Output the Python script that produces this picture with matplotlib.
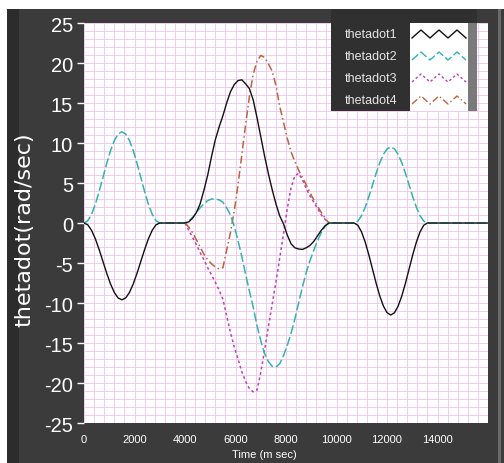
import numpy as np
import matplotlib.pyplot as plt
from matplotlib.patches import Rectangle
from matplotlib.lines import Line2D

plt.rcParams['axes.unicode_minus'] = False

# time samples (ms): three moves separated by holds
seg1_t = [0, 150, 300, 450, 600, 750, 900, 1050, 1200, 1350, 1500,
          1650, 1800, 1950, 2100, 2250, 2400, 2550, 2700, 2850, 3000]
seg2_t = [4000, 4150, 4300, 4450, 4600, 4750, 4900, 5050, 5200, 5350,
          5500, 5650, 5800, 5950, 6100, 6250, 6400, 6550, 6700, 6850,
          7000, 7150, 7300, 7450, 7600, 7750, 7900, 8050, 8200, 8350,
          8500, 8650, 8800, 8950, 9100, 9250, 9400, 9550, 9700]
seg3_t = [10700, 10845, 10990, 11135, 11280, 11425, 11570, 11715, 11860,
          12005, 12150, 12295, 12440, 12585, 12730, 12875, 13020, 13165,
          13310, 13455, 13600]
time_ms = seg1_t + seg2_t + seg3_t + [16000]

# joint velocities (rad/sec)
thetadot1 = ([0, -0.23, -0.92, -1.98, -3.32, -4.8, -6.28, -7.62, -8.68, -9.37, -9.6,
              -9.37, -8.68, -7.62, -6.28, -4.8, -3.32, -1.98, -0.92, -0.23, 0]
             + [0, 0.15, 0.6, 1.3, 2.4, 4.1, 6.0, 8.3, 10.4, 12.0,
                13.4, 15.0, 16.4, 17.3, 17.8, 17.9, 17.4, 16.8, 15.4, 13.2,
                10.8, 8.4, 6.2, 4.2, 2.4, 0.9, -0.1, -1.5, -2.6, -3.1,
                -3.25, -3.3, -3.1, -2.8, -2.3, -1.6, -0.9, -0.35, 0]
             + [0, -0.28, -1.1, -2.37, -3.97, -5.75, -7.53, -9.13, -10.4, -11.22, -11.5,
                -11.22, -10.4, -9.13, -7.53, -5.75, -3.97, -2.37, -1.1, -0.28, 0]
             + [0])
thetadot2 = ([0, 0.28, 1.09, 2.35, 3.94, 5.7, 7.46, 9.05, 10.31, 11.12, 11.4,
              11.12, 10.31, 9.05, 7.46, 5.7, 3.94, 2.35, 1.09, 0.28, 0]
             + [0, 0.25, 0.7, 1.3, 1.9, 2.4, 2.8, 3.0, 3.0, 2.9,
                2.6, 1.9, 1.0, -0.4, -2.2, -4.2, -6.4, -8.5, -10.5, -12.8,
                -14.7, -16.3, -17.3, -17.9, -18.0, -17.6, -16.6, -15.3, -13.8, -12.0,
                -10.0, -8.0, -6.2, -4.7, -3.4, -2.2, -1.2, -0.4, 0]
             + [0, 0.23, 0.91, 1.96, 3.28, 4.75, 6.22, 7.54, 8.59, 9.27, 9.5,
                9.27, 8.59, 7.54, 6.22, 4.75, 3.28, 1.96, 0.91, 0.23, 0]
             + [0])
thetadot3 = [0, -0.9, -1.8, -2.7, -3.7, -4.6, -5.6, -6.5, -7.4, -8.4,
             -9.5, -11.6, -13.7, -15.5, -17.0, -18.6, -19.8, -20.7, -21.1, -20.9,
             -18.7, -15.9, -13.0, -10.2, -7.4, -4.4, -1.4, 1.8, 4.4, 5.9,
             6.2, 5.4, 4.3, 3.4, 2.6, 1.8, 1.0, 0.45, 0]
thetadot4 = [0, -0.5, -1.2, -2.1, -3.0, -3.9, -4.6, -5.1, -5.5, -5.75,
             -5.6, -3.4, -1.2, 1.5, 4.8, 8.5, 12.3, 15.8, 18.6, 20.2,
             20.95, 20.7, 19.9, 19.0, 17.2, 14.6, 12.6, 10.6, 8.9, 7.7,
             6.6, 5.7, 4.8, 3.8, 2.9, 2.1, 1.3, 0.6, 0]

names = ['thetadot1', 'thetadot2', 'thetadot3', 'thetadot4']
colors = ['#111111', '#2fb3b3', '#c23cb8', '#b8643c']
dashes = [None, (6, 2), (1.8, 1.8), (5, 2, 1, 2)]

W, H = 504, 464
fig = plt.figure(figsize=(W / 100, H / 100), dpi=100, facecolor='white')

def px(x0, y0, w, h):
    # pixel box (top-left origin) -> figure fraction rect
    return (x0 / W, 1 - (y0 + h) / H), w / W, h / H

# dark panel behind everything
for (x0, y0, w, h), c in [((7, 10, 497, 454), '#3b3b3b'),
                          ((7, 10, 12, 454), '#2c2c2c'),
                          ((498, 10, 3, 454), '#6a6a6a')]:
    xy, ww, hh = px(x0, y0, w, h)
    fig.patches.append(Rectangle(xy, ww, hh, transform=fig.transFigure,
                                 facecolor=c, edgecolor='none', zorder=-5))

ax = fig.add_axes([84 / W, 1 - 424 / H, 404 / W, 400 / H])
ax.set_facecolor('white')

ax.plot(time_ms, thetadot1, color=colors[0], lw=1.0, zorder=5)
ax.plot(time_ms, thetadot2, color=colors[1], lw=1.1, dashes=dashes[1], zorder=4)
ax.plot(seg2_t, thetadot3, color=colors[2], lw=1.1, dashes=dashes[2], zorder=3)
ax.plot(seg2_t, thetadot4, color=colors[3], lw=1.1, dashes=dashes[3], zorder=3)

ax.set_xlim(0, 16000)
ax.set_ylim(-25, 25)
ax.set_xticks(np.arange(0, 14001, 2000))
ax.set_xticks(np.arange(0, 16001, 400), minor=True)
ax.set_yticks(np.arange(-25, 26, 5))
ax.set_yticks(np.arange(-25, 26, 1), minor=True)
ax.grid(which='both', color='#f1caf0', lw=0.7, zorder=0)
ax.set_axisbelow(True)
for s in ax.spines.values():
    s.set_visible(False)

ax.tick_params(axis='x', which='both', length=0, pad=8, colors='white',
               labelsize=8)
ax.tick_params(axis='y', which='major', length=5, width=1, pad=3,
               colors='white', labelsize=14.5)
ax.tick_params(axis='y', which='minor', length=0)
for lab in ax.get_xticklabels():
    lab.set_fontfamily('Liberation Sans')
for lab in ax.get_yticklabels():
    lab.set_fontfamily('Liberation Sans')

fig.text(264 / W, 1 - 455 / H, 'Time (m sec)', color='white', fontsize=8,
         family='Liberation Sans', ha='center', va='center')
fig.text(24 / W, 1 - 230 / H, 'thetadot(rad/sec)', color='white', fontsize=16,
         rotation=90, ha='center', va='center')

# LabVIEW-style legend box in the top right
for (x0, y0, w, h), c in [((331, 10, 146, 102), '#303030'),
                          ((410, 24, 58, 88), 'white'),
                          ((468, 24, 9, 88), '#7a7a7a')]:
    xy, ww, hh = px(x0, y0, w, h)
    fig.patches.append(Rectangle(xy, ww, hh, transform=fig.transFigure,
                                 facecolor=c, edgecolor='none', zorder=6))

rows_y = [35, 57, 79, 101]
zig_x = np.linspace(412, 466, 7)
for name, c, d, yy in zip(names, colors, dashes, rows_y):
    fig.text(345 / W, 1 - yy / H, name, color='#e6e6e6', fontsize=9,
             family='Liberation Sans', ha='left', va='center', zorder=7)
    zig_y = yy + np.array([4, -4, 4, -4, 4, -4, 4])
    ln = Line2D(zig_x / W, 1 - zig_y / H, transform=fig.transFigure,
                color=c, lw=1.0, zorder=7)
    if d is not None:
        ln.set_dashes(d)
    fig.lines.append(ln)

fig.savefig('out.png', dpi=100, facecolor=fig.get_facecolor())
